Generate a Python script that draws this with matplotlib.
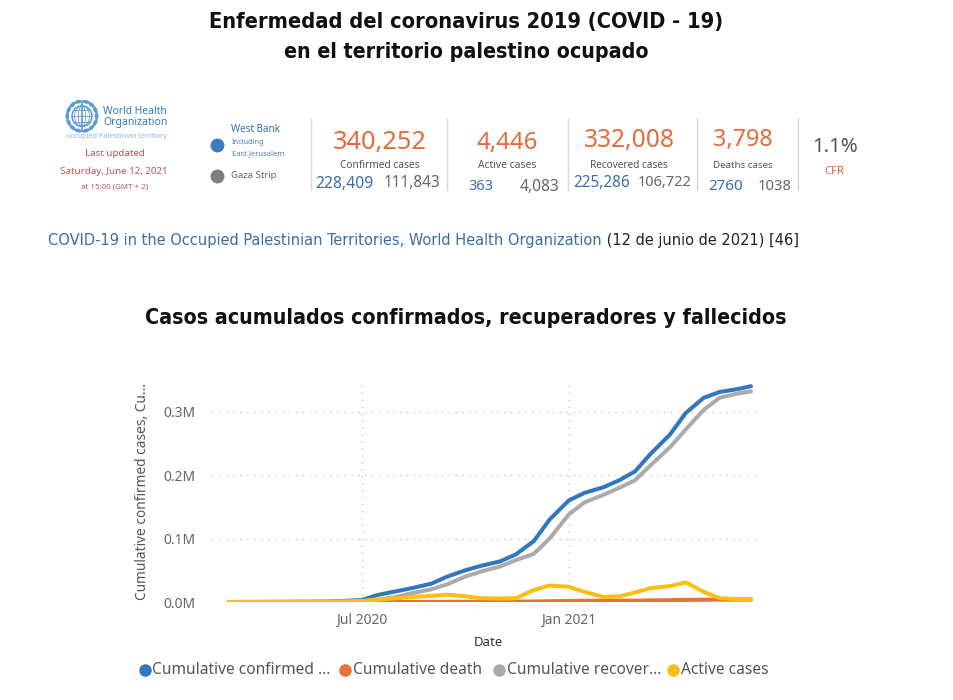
import datetime as dt

import matplotlib
matplotlib.use('Agg')
import matplotlib.pyplot as plt
import numpy as np
from matplotlib import font_manager
from matplotlib.lines import Line2D
from matplotlib.patches import Circle, Ellipse
from matplotlib.ticker import FuncFormatter

# --- data ------------------------------------------------------------------
dates = ['2020-03-05', '2020-04-01', '2020-05-01', '2020-06-01', '2020-07-01',
         '2020-07-15', '2020-08-01', '2020-08-15', '2020-09-01', '2020-09-15',
         '2020-10-01', '2020-10-15', '2020-11-01', '2020-11-15', '2020-12-01',
         '2020-12-15', '2021-01-01', '2021-01-15', '2021-02-01', '2021-02-15',
         '2021-03-01', '2021-03-15', '2021-04-01', '2021-04-15', '2021-05-01',
         '2021-05-15', '2021-06-01', '2021-06-12']
confirmed = [0, 130, 350, 650, 3000, 11000, 17000, 22000, 29000, 40000,
             50000, 57000, 64000, 75000, 96000, 130000, 160000, 172000, 181000, 192000,
             206000, 234000, 264000, 298000, 322000, 331000, 336000, 340252]
deaths = [0, 1, 2, 3, 10, 60, 100, 140, 180, 270,
          350, 430, 480, 570, 800, 1200, 1600, 1850, 2000, 2100,
          2250, 2500, 2900, 3300, 3600, 3700, 3770, 3798]
recovered = [0, 20, 200, 450, 1000, 3000, 8000, 14000, 20000, 28000,
             40000, 48000, 56000, 66000, 76000, 100000, 138000, 157000, 169000, 180000,
             192000, 216000, 244000, 272000, 303000, 322000, 329000, 332008]
active = [0, 110, 150, 200, 1500, 4000, 6000, 8000, 9500, 11500,
          9000, 6000, 5500, 6000, 19000, 26000, 24000, 16000, 8000, 9000,
          15000, 22000, 25000, 31000, 16000, 6000, 4500, 4446]

series_labels = ['Cumulative confirmed ...', 'Cumulative death',
                 'Cumulative recover...', 'Active cases']
series_colors = ['#2F78C0', '#E8703A', '#ABABAB', '#FBBF14']

x_ticks = ['2020-07-01', '2021-01-01']
x_tick_labels = ['Jul 2020', 'Jan 2021']
y_ticks = [0, 100000, 200000, 300000]

# dashboard figures
totals = ['340,252', '4,446', '332,008', '3,798']
total_labels = ['Confirmed cases', 'Active cases', 'Recovered cases', 'Deaths cases']
west_bank = ['228,409', '363', '225,286', '2760']
gaza = ['111,843', '4,083', '106,722', '1038']
cfr = '1.1%'

title1 = 'Enfermedad del coronavirus 2019 (COVID - 19)'
title2 = 'en el territorio palestino ocupado'
chart_title = 'Casos acumulados confirmados, recuperadores y fallecidos'
caption_link = 'COVID-19 in the Occupied Palestinian Territories, World Health Organization'
caption_rest = ' (12 de junio de 2021) [46]'

# --- fonts --------------------------------------------------------------------
names = {f.name for f in font_manager.fontManager.ttflist}
if 'Liberation Sans Narrow' in names:
    narrow = dict(family='Liberation Sans Narrow')
else:
    narrow = dict(family='DejaVu Sans', stretch='condensed')
ui = 'Noto Sans' if 'Noto Sans' in names else 'DejaVu Sans'

W, H = 954, 700
fig = plt.figure(figsize=(W / 100, H / 100), dpi=100)
fig.patch.set_facecolor('white')
renderer = fig.canvas.get_renderer()


def put(x, y, s, width=None, size=10, vertical=False, **kw):
    # place text at pixel coords (from top-left); optionally scale to a pixel width
    kw.setdefault('ha', 'center')
    kw.setdefault('va', 'center')
    t = fig.text(x / W, 1 - y / H, s, fontsize=size, **kw)
    if width:
        bb = t.get_window_extent(renderer)
        cur = bb.height if vertical else bb.width
        t.set_fontsize(size * width / cur)
    return t


def vline(x, y0, y1, color='#D9D9D9', lw=1):
    fig.add_artist(Line2D([x / W, x / W], [1 - y0 / H, 1 - y1 / H],
                          transform=fig.transFigure, color=color, lw=lw))


def dot(x, y, color, ms):
    fig.add_artist(Line2D([x / W], [1 - y / H], transform=fig.transFigure,
                          marker='o', ms=ms, color=color, mec=color, lw=0))


# --- titles -------------------------------------------------------------------
put(466, 22, title1, width=518, size=16, weight='bold', color='#111111', **narrow)
put(466, 52, title2, width=363, size=16, weight='bold', color='#111111', **narrow)

# --- WHO emblem ------------------------------------------------------------------
lax = fig.add_axes([62 / W, 1 - 134 / H, 40 / W, 34 / H])
lax.set_xlim(-1.2, 1.2)
lax.set_ylim(-1.0, 1.0)
lax.axis('off')
lc = '#5B9BD5'
lax.add_patch(Circle((0, 0.05), 0.6, fill=False, ec=lc, lw=1.1))
for w in [0.22, 0.45]:
    lax.add_patch(Ellipse((0, 0.05), 2 * w, 1.2, fill=False, ec=lc, lw=0.6))
for yy in [-0.3, 0.05, 0.4]:
    half = np.sqrt(0.6 ** 2 - (yy - 0.05) ** 2)
    lax.plot([-half, half], [yy, yy], color=lc, lw=0.6)
for a in np.radians(np.linspace(-75, 75, 7)):
    for sgn in [1, -1]:
        lax.add_patch(Ellipse((sgn * 0.88 * np.cos(a), 0.05 + 0.88 * np.sin(a)),
                              0.34, 0.14, angle=sgn * np.degrees(a) + 90 * sgn,
                              color=lc))
lax.plot([0, 0], [-0.85, 0.9], color=lc, lw=1.2)

put(103, 111, 'World Health', width=64, size=8, ha='left', weight='bold',
    color='#2F7DBF', family=ui)
put(103, 122, 'Organization', width=64, size=8, ha='left', weight='bold',
    color='#2F7DBF', family=ui)
put(116, 136, 'occupied Palestinian territory', width=102, size=5,
    color='#8DB8DD', family=ui)
put(115, 153, 'Last updated', width=60, size=7, color='#C0504D', family=ui)
put(114, 172, 'Saturday, June 12, 2021', width=108, size=7, color='#C0504D', family=ui)
put(115, 187, 'at 15:00 (GMT + 2)', width=67, size=5, color='#C0504D', family=ui)

# --- region legend -------------------------------------------------------------
dot(217, 145, '#3A7DC0', 9)
dot(217, 176, '#7F7F7F', 9)
put(231, 130, 'West Bank', width=49, size=7, ha='left', weight='bold',
    color='#2E6DB0', family=ui)
put(232, 143, 'Including', width=33, size=5, ha='left', color='#4F7FB5', family=ui)
put(232, 154, 'East Jerusalem', width=52, size=5, ha='left', color='#4F7FB5', family=ui)
put(231, 176, 'Gaza Strip', width=46, size=7, ha='left', weight='bold',
    color='#666666', family=ui)

# --- KPI cards ------------------------------------------------------------------
for sx in [311, 447, 568, 697, 798]:
    vline(sx, 118, 190)

card_x = [380, 507, 629, 743]
card_y = [143, 143, 141, 140]
total_w = [94, 61, 91, 60]
label_w = [80, 58, 78, 60]
wb_xy = [(344, 184), (481, 187), (602, 183), (726, 187)]
gz_xy = [(412, 183), (540, 187), (665, 182), (775, 187)]
wb_w = [58, 25, 57, 35]
gz_w = [57, 40, 54, 34]
for i in range(4):
    put(card_x[i], card_y[i], totals[i], width=total_w[i], size=18,
        color='#E46C3A', family=ui)
    put(card_x[i], 166, total_labels[i], width=label_w[i], size=7,
        color='#555555', family=ui)
    put(*wb_xy[i], west_bank[i], width=wb_w[i], size=11, color='#3A6EA8', family=ui)
    put(*gz_xy[i], gaza[i], width=gz_w[i], size=11, color='#666666', family=ui)
put(835, 147, cfr, width=46, size=16, color='#555555', family=ui)
put(834, 172, 'CFR', width=20, size=7, color='#E06040', family=ui)

# --- caption --------------------------------------------------------------------
cap = put(48, 240, caption_link, width=555, size=11, ha='left',
          color='#3A6EA5', **narrow)
cap_end = cap.get_window_extent(renderer).x1
put(cap_end, 240, caption_rest, size=cap.get_fontsize(), ha='left',
    color='#222222', **narrow)

# --- chart ------------------------------------------------------------------------
put(466, 318, chart_title, width=642, size=16, weight='bold', color='#111111', **narrow)

ax = fig.add_axes([212 / W, 1 - 602 / H, (760 - 212) / W, (602 - 380) / H])
d = [dt.datetime.strptime(s, '%Y-%m-%d') for s in dates]
for vals, col in zip([confirmed, deaths, recovered, active], series_colors):
    ax.plot(d, vals, color=col, lw=2.9, solid_joinstyle='round',
            solid_capstyle='round')

ax.set_xlim(dt.datetime(2020, 2, 19), dt.datetime(2021, 6, 20))
ax.set_ylim(0, 350000)
ax.set_xticks([dt.datetime.strptime(s, '%Y-%m-%d') for s in x_ticks])
ax.set_xticklabels(x_tick_labels)
ax.set_yticks(y_ticks)
ax.yaxis.set_major_formatter(FuncFormatter(lambda v, p: f'{v / 1e6:.1f}M'))
ax.tick_params(length=0, labelsize=10, labelcolor='#666666')
ax.tick_params(axis='x', pad=8)
ax.tick_params(axis='y', pad=12)
for lab in ax.get_xticklabels() + ax.get_yticklabels():
    lab.set_family(ui)
for sp in ax.spines.values():
    sp.set_visible(False)
ax.grid(True, color='#C8C8C8', linestyle=(0, (1, 4)), linewidth=1)
ax.set_axisbelow(True)

put(143, 491, 'Cumulative confirmed cases, Cu...', width=217, size=9,
    vertical=True, rotation=90, color='#555555', family=ui)
put(488, 642, 'Date', size=9.5, color='#333333', weight='semibold', family=ui)

# --- legend ----------------------------------------------------------------------------
leg_dot_x = [145, 345, 499, 673]
leg_txt_x = [152, 353, 507, 681]
first = put(leg_txt_x[0], 670, series_labels[0], width=178, size=10, ha='left',
            color='#555555', family=ui)
fs = first.get_fontsize()
for i in range(4):
    dot(leg_dot_x[i], 670, series_colors[i], 8)
    if i:
        put(leg_txt_x[i], 670, series_labels[i], size=fs, ha='left',
            color='#555555', family=ui)

fig.savefig('out.png', dpi=100, facecolor='white')
